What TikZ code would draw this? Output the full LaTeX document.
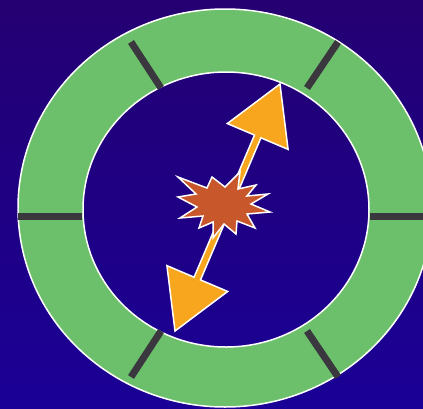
\documentclass[tikz,border=0pt]{standalone}
\usetikzlibrary{calc}
\definecolor{bgtop}{RGB}{36,0,114}
\definecolor{bgbottom}{RGB}{26,0,150}
\definecolor{ringgreen}{RGB}{108,192,108}
\definecolor{spokegray}{RGB}{58,56,62}
\definecolor{arroworange}{RGB}{247,166,30}
\definecolor{burstred}{RGB}{200,88,44}

\begin{document}
\begin{tikzpicture}[x=1pt, y=-1pt,
  spoke/.style={draw=spokegray, line width=7pt},
  rimline/.style={draw=white, line width=1.5pt},
  arrowbody/.style={fill=arroworange, draw=white, line width=1.5pt, line join=miter},
  burst/.style={fill=burstred, draw=white, line width=1.5pt, line join=miter}]
  % Background
  \shade[top color=bgtop, bottom color=bgbottom] (0,0) rectangle (423,408);
  \useasboundingbox (0,0) rectangle (423,408);

  % Green ring
  \coordinate (outerc) at (225,208);
  \coordinate (innerc) at (226,209.5);
  \fill[ringgreen, even odd rule] (outerc) ellipse [x radius=207, y radius=199]
    (innerc) ellipse [x radius=143, y radius=137.5];
  \draw[rimline] (outerc) ellipse [x radius=207, y radius=199];
  \draw[rimline] (innerc) ellipse [x radius=143, y radius=137.5];

  % Spokes across the ring
  \draw[spoke] (18,216.5) -- (82,216.5);
  \draw[spoke] (370,216.5) -- (423,216.5);
  \draw[spoke] (131,42) -- (161,88);
  \draw[spoke] (338,42) -- (307,88);
  \draw[spoke] (131,377) -- (161,331);
  \draw[spoke] (338,377) -- (307,331);

  % Double-headed arrow
  \coordinate (headN) at (280,84);
  \coordinate (headS) at (175,331);
  \coordinate (baseN) at ($(headN)!57pt!(headS)$);
  \coordinate (baseS) at ($(headS)!57pt!(headN)$);
  \filldraw[arrowbody] (headN)
    -- ($(baseN)!33pt!-90:(headN)$) -- ($(baseN)!3.5pt!-90:(headN)$)
    -- ($(baseS)!3.5pt!90:(headS)$) -- ($(baseS)!33pt!90:(headS)$)
    -- (headS)
    -- ($(baseS)!33pt!-90:(headS)$) -- ($(baseS)!3.5pt!-90:(headS)$)
    -- ($(baseN)!3.5pt!90:(headN)$) -- ($(baseN)!33pt!90:(headN)$)
    -- cycle;

  % Starburst in the middle
  \filldraw[burst] (178,177) -- (207,188) -- (212,177) -- (225,187)
    -- (240,172) -- (238,189) -- (256,185) -- (247,196)
    -- (268,194) -- (251,204) -- (270,212) -- (247,214)
    -- (255,228) -- (237,221) -- (236,234) -- (224,224)
    -- (213,238) -- (213,222) -- (199,228) -- (203,216)
    -- (180,218) -- (197,207) -- (178,197) -- (196,194)
    -- cycle;
\end{tikzpicture}
\end{document}
